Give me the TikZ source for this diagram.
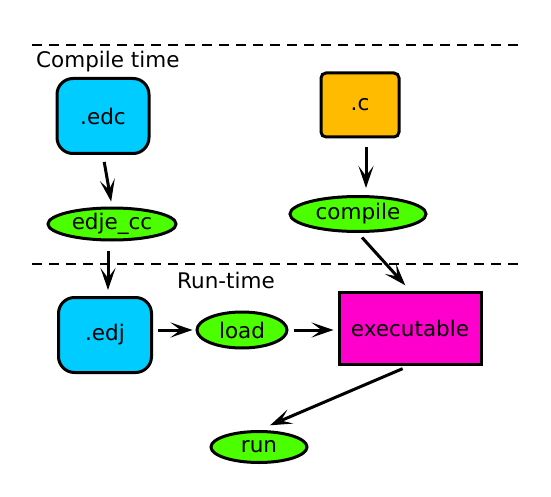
\documentclass[tikz,border=0pt]{standalone}
\usepackage{fontspec}
\setmainfont{DejaVu Sans}
\usetikzlibrary{arrows.meta,shapes.geometric}
\definecolor{cyanbox}{RGB}{0,204,255}
\definecolor{orangebox}{RGB}{255,187,0}
\definecolor{greenell}{RGB}{76,255,0}
\definecolor{magbox}{RGB}{255,0,204}
\tikzset{
  every node/.style={font=\fontsize{21.5}{25}\selectfont},
  bluebox/.style={draw=black, line width=3pt, fill=cyanbox, rounded corners=16pt, inner sep=0pt},
  ell/.style={ellipse, draw=black, line width=3pt, fill=greenell, inner sep=0pt},
  arr/.style={-{Stealth[length=22pt,width=15pt,inset=10pt]}, line width=3pt},
  sep/.style={dash pattern=on 10pt off 7pt, line width=2.4pt},
}
\begin{document}
\begin{tikzpicture}[x=1pt,y=-1pt]
\useasboundingbox (0,0) rectangle (551,497);
\coordinate (l1a) at (32,45); \coordinate (l1b) at (522,45);
\coordinate (l2a) at (32,264); \coordinate (l2b) at (522,264);
\draw[sep] (l1a) -- (l1b);
\draw[sep] (l2a) -- (l2b);
\node[anchor=west, inner sep=0pt] (ct) at (36,62) {Compile time};
\node[inner sep=0pt] (rt) at (226,280) {Run-time};
\node[bluebox, minimum width=92pt, minimum height=75pt] (edc) at (103,116) {.edc};
\node[draw=black, line width=3pt, fill=orangebox, rounded corners=5pt, minimum width=78pt, minimum height=64pt] (c) at (360,105) {.c};
\node[ell, minimum width=128pt, minimum height=32pt] (edjecc) at (112,224) {edje\_cc};
\node[ell, minimum width=136pt, minimum height=35pt] (compile) at (358,214) {compile};
\node[bluebox, minimum width=93pt, minimum height=75pt] (edj) at (105,335) {.edj};
\node[ell, minimum width=90pt, minimum height=36pt] (load) at (242,330) {load};
\node[draw=black, line width=3pt, fill=magbox, minimum width=142pt, minimum height=72pt] (exe) at (410,328) {executable};
\node[ell, minimum width=96pt, minimum height=31pt] (run) at (259,447) {run};
\draw[arr, shorten <=7pt, shorten >=5pt] (edc.south) -- (edjecc.north);
\draw[arr, shorten <=9pt, shorten >=6pt] (edjecc.south -| 108,0) -- (edj.north -| 108,0);
\draw[arr, shorten <=9pt, shorten >=7pt] (c.south -| 366,0) -- (compile.north -| 366,0);
\draw[arr, shorten <=6pt, shorten >=7pt] (compile.south) -- (exe.north);
\draw[arr, shorten <=5pt, shorten >=3pt] (edj.east |- load.west) -- (load.west);
\draw[arr, shorten <=5pt, shorten >=4pt] (load.east) -- (exe.west |- load.east);
\draw[arr, shorten <=8pt, shorten >=12pt] (exe.south) -- (run.north);
\end{tikzpicture}
\end{document}
